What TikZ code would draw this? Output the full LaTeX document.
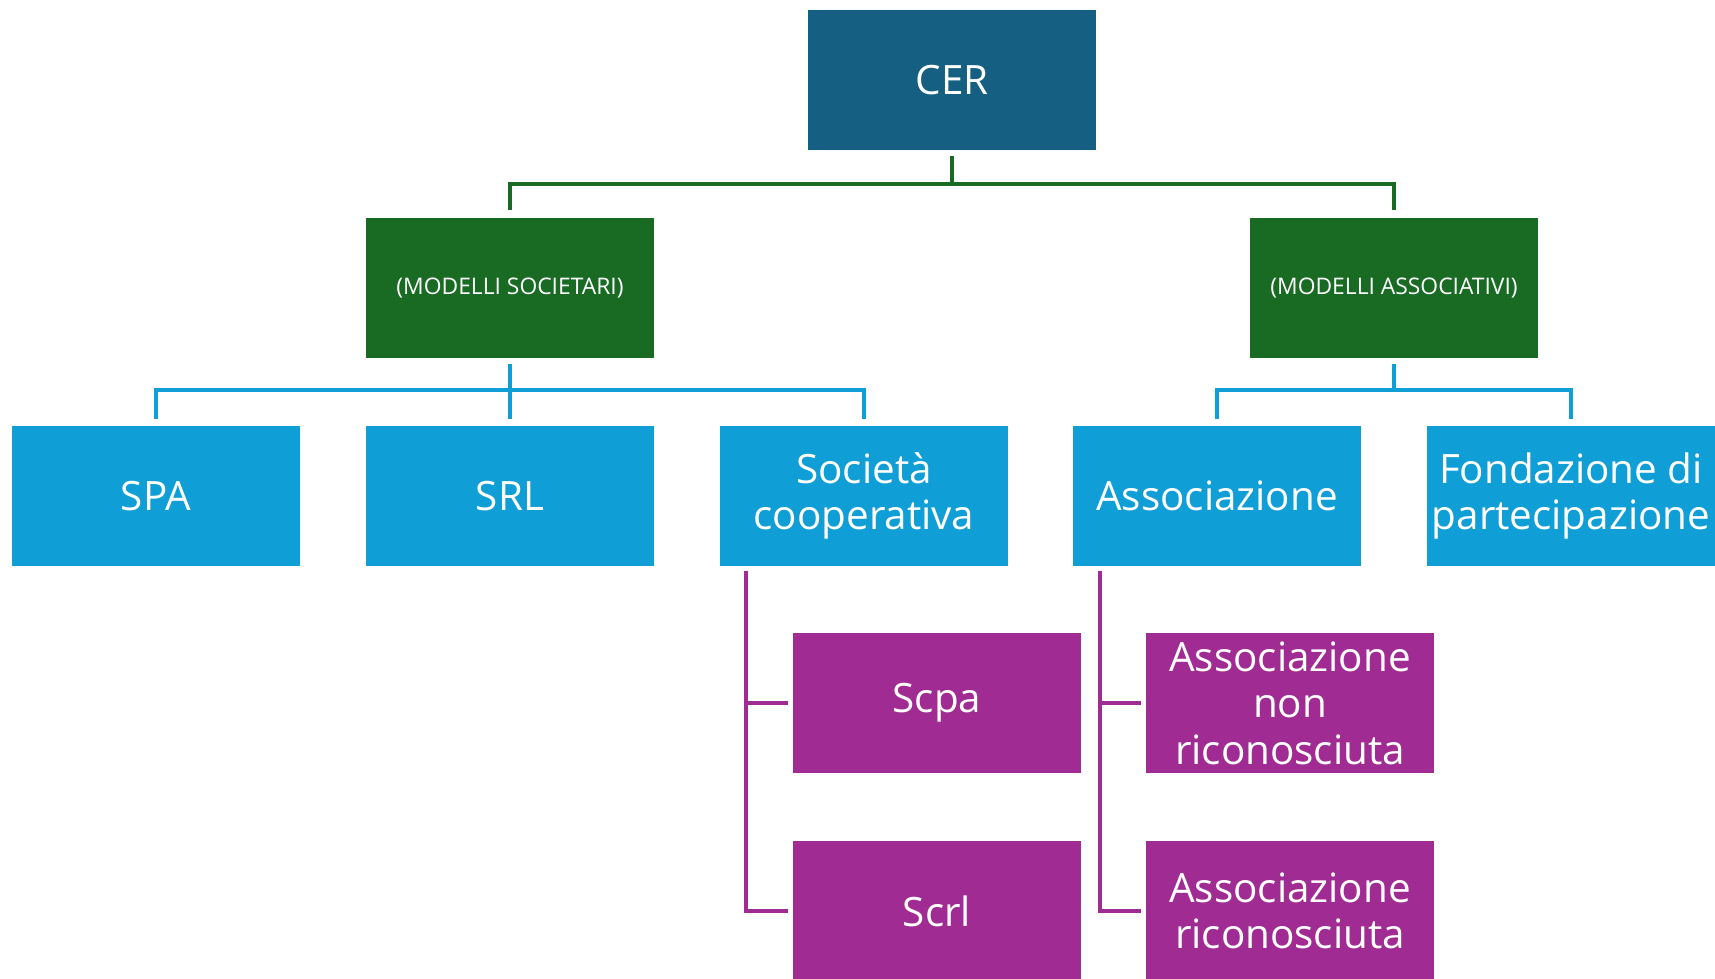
\documentclass[tikz,border=0pt]{standalone}
\usepackage{fontspec}
\setmainfont{Open Sans}
\definecolor{cerblue}{HTML}{156082}
\definecolor{modgreen}{HTML}{196B24}
\definecolor{formblue}{HTML}{0F9ED5}
\definecolor{subpurple}{HTML}{A02B93}
\begin{document}
\begin{tikzpicture}[x=0.02cm,y=-0.02cm]
      \useasboundingbox (0,0) rectangle (1715,979);

      \begin{scope}[every node/.style={rectangle, minimum width=5.76cm, minimum height=2.82cm, inner sep=0pt, align=center, text=white, font=\fontsize{23}{26.5}\selectfont}]
        \node[fill=cerblue] (cer) at (952,80) {CER};
        \node[fill=modgreen, font=\fontsize{13}{15}\selectfont] (soc) at (510,288) {(MODELLI SOCIETARI)};
        \node[fill=modgreen, font=\fontsize{13}{15}\selectfont] (ass) at (1394,288) {(MODELLI ASSOCIATIVI)};
        \node[fill=formblue] (spa)   at (156,496)  {SPA};
        \node[fill=formblue] (srl)   at (510,496)  {SRL};
        \node[fill=formblue] (coop)  at (864,496)  {Società\\cooperativa};
        \node[fill=formblue] (assoc) at (1217,496) {Associazione};
        \node[fill=formblue] (fond)  at (1571,496) {Fondazione di\\partecipazione};
        \node[fill=subpurple] (scpa) at (937,703)  {Scpa};
        \node[fill=subpurple] (scrl) at (937,911)  {Scrl};
        \node[fill=subpurple] (anr)  at (1290,703) {Associazione\\non\\riconosciuta};
        \node[fill=subpurple] (ar)   at (1290,911) {Associazione\\riconosciuta};
      \end{scope}

      \coordinate (gbar)  at (952,184);
      \coordinate (bbarL) at (510,390);
      \coordinate (bbarR) at (1394,390);
      \coordinate (ptopL) at ([xshift=5.2mm,yshift=-0.8mm]coop.south west);
      \coordinate (ptopR) at ([xshift=5.4mm,yshift=-0.8mm]assoc.south west);

      \begin{scope}[line width=0.075cm]
        \draw[modgreen] ([yshift=-1mm]cer.south) -- (gbar);
        \draw[modgreen] ([yshift=1.4mm]soc.north) |- (gbar) -| ([yshift=1.4mm]ass.north);

        \draw[formblue] ([yshift=-1mm]soc.south) -- ([yshift=1.2mm]srl.north);
        \draw[formblue] ([yshift=1.2mm]spa.north) |- (bbarL) -| ([yshift=1.2mm]coop.north);
        \draw[formblue] ([yshift=-1mm]ass.south) -- (bbarR);
        \draw[formblue] ([yshift=1.2mm]assoc.north) |- (bbarR) -| ([yshift=1.2mm]fond.north);

        \draw[subpurple] (ptopL) |- ([xshift=-1mm]scrl.west);
        \draw[subpurple] (ptopL |- scpa.west) -- ([xshift=-1mm]scpa.west);
        \draw[subpurple] (ptopR) |- ([xshift=-1mm]ar.west);
        \draw[subpurple] (ptopR |- anr.west) -- ([xshift=-1mm]anr.west);
      \end{scope}

    \end{tikzpicture}
\end{document}
